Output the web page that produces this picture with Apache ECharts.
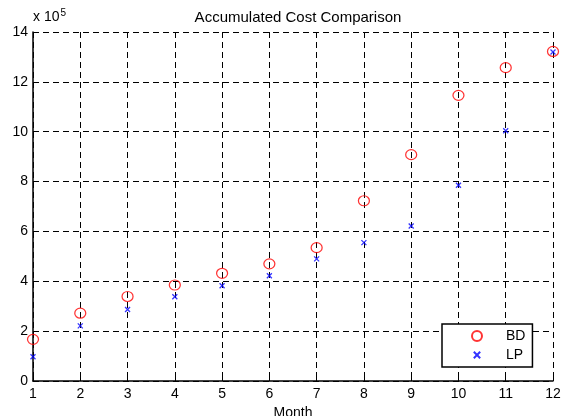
<!DOCTYPE html>
<html>
<head>
<meta charset="utf-8">
<script src="https://cdn.jsdelivr.net/npm/echarts@6/dist/echarts.min.js"></script>
<style>html,body{margin:0;padding:0;background:#fff}#c{width:570px;height:416px}</style>
</head>
<body>
<div id="c"></div>
<script>
var months = [1, 2, 3, 4, 5, 6, 7, 8, 9, 10, 11, 12];
var bdValues = [167000, 272000, 339000, 385000, 432000, 470000, 535000, 723000, 908000, 1146000, 1257000, 1322000];
var lpValues = [97000, 221000, 287000, 338000, 382000, 422000, 490000, 555000, 622000, 785000, 1004000, 1320000];
var yTicks = [0, 2, 4, 6, 8, 10, 12, 14];
var titleText = 'Accumulated Cost Comparison';
var xName = 'Month';

var FONT = 'Liberation Sans, Arial, sans-serif';
function pairs(vals) { return months.map(function (m, i) { return [m, vals[i]]; }); }

var chart = echarts.init(document.getElementById('c'), null, { renderer: 'canvas' });
chart.setOption({
  animation: false,
  backgroundColor: '#fff',
  title: {
    text: titleText, left: 293, textAlign: 'center', top: 5,
    textStyle: { fontFamily: FONT, fontSize: 15, fontWeight: 'normal', color: '#000' }
  },
  grid: { left: 33, right: 17, top: 32, bottom: 35, containLabel: false, outerBoundsMode: 'none' },
  xAxis: {
    type: 'value', min: 1, max: 12, interval: 1,
    name: xName, nameLocation: 'middle', nameGap: 21,
    nameTextStyle: { fontFamily: FONT, fontSize: 14, color: '#000' },
    axisLine: { show: true, onZero: false, lineStyle: { color: '#000', width: 1.5 } },
    axisTick: { show: true, inside: true, length: 4, lineStyle: { color: '#000' } },
    axisLabel: { fontFamily: FONT, fontSize: 14, color: '#000', margin: 6 },
    splitLine: { show: true, lineStyle: { color: '#000', type: [6, 4], width: 1 } }
  },
  yAxis: {
    type: 'value', min: 0, max: 14e5, interval: 2e5,
    name: 'x 10{s|5}', nameLocation: 'end', nameGap: 6,
    nameTextStyle: { fontFamily: FONT, fontSize: 14, color: '#000', align: 'left', verticalAlign: 'bottom',
      rich: { s: { fontFamily: FONT, fontSize: 10, verticalAlign: 'top', padding: [0, 0, 8, 1], color: '#000' } } },
    axisLine: { show: true, lineStyle: { color: '#000', width: 1.5 } },
    axisTick: { show: true, inside: true, length: 4, lineStyle: { color: '#000' } },
    axisLabel: { fontFamily: FONT, fontSize: 14, color: '#000', margin: 5,
      formatter: function (v) { return String(Math.round(v / 1e5)); } },
    splitLine: { show: true, lineStyle: { color: '#000', type: [6, 4], width: 1 } }
  },
  legend: {
    orient: 'vertical', left: 442, top: 324,
    backgroundColor: '#fff', borderColor: '#000', borderWidth: 1.5,
    padding: [5, 7, 5, 27], itemGap: 5, itemWidth: 14, itemHeight: 10,
    textStyle: { fontFamily: FONT, fontSize: 14, color: '#000', padding: [0, 0, 0, 17] },
    data: [
      { name: 'BD' },
      { name: 'LP', icon: 'path://M-6,-2M0,0L10,10M10,0L0,10M16,12' }
    ]
  },
  series: [
    {
      name: 'BD', type: 'scatter', data: pairs(bdValues),
      symbol: 'circle', symbolSize: [11, 10],
      itemStyle: { color: 'rgba(0,0,0,0)', borderColor: '#ff0000', borderWidth: 1.2 }, z: 2
    },
    {
      name: 'LP', type: 'scatter', data: pairs(lpValues),
      symbol: 'path://M0,0L10,10M10,0L0,10', symbolSize: 5,
      itemStyle: { color: '#0000ff', borderColor: '#0000ff', borderWidth: 1.3 }, z: 3
    }
  ]
});
</script>
</body>
</html>
